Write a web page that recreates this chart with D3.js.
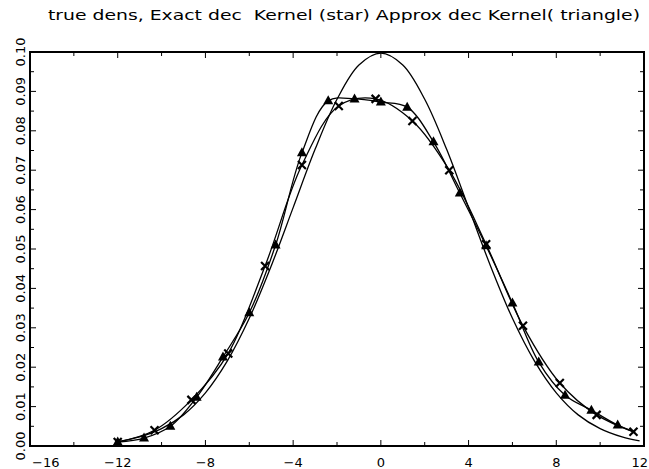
<!DOCTYPE html>
<html>
<head>
<meta charset="utf-8">
<script src="https://cdn.jsdelivr.net/npm/d3@7"></script>
<style>
  body { margin: 0; background: #fff; }
  text { font-family: "DejaVu Sans", sans-serif; fill: #000; }
</style>
</head>
<body>
<svg id="chart" width="649" height="469"></svg>
<script>
// Data
const title = "true dens, Exact dec  Kernel (star) Approx dec Kernel( triangle)"

const xTicks = [-16, -12, -8, -4, 0, 4, 8, 12]
const xMinor = [-14, -10, -6, -2, 2, 6, 10]
const yTicks = [0, 0.01, 0.02, 0.03, 0.04, 0.05, 0.06, 0.07, 0.08, 0.09, 0.10]
const yMinor = [0.005, 0.015, 0.025, 0.035, 0.045, 0.055, 0.065, 0.075, 0.085, 0.095]

// true density (plain line)
const trueX = [-12, -11, -10, -9, -8, -7, -6, -5, -4, -3, -2, -1, 0, 1, 2, 3, 4, 5, 6, 7, 8, 9, 10, 11, 11.8]
const trueY = [0.0011, 0.0023, 0.0044, 0.0079, 0.0135, 0.0216, 0.0324, 0.0457, 0.0605, 0.0753, 0.0880, 0.0967, 0.0997,
               0.0967, 0.0880, 0.0753, 0.0605, 0.0457, 0.0324, 0.0216, 0.0135, 0.0079, 0.0044, 0.0023, 0.0013]

// exact deconvolution kernel (star markers)
const starX = [-12, -10.32, -8.64, -6.96, -5.28, -3.6, -1.92, -0.24, 1.44, 3.12, 4.8, 6.48, 8.16, 9.84, 11.52]
const starY = [0.0010, 0.0040, 0.0117, 0.0235, 0.0457, 0.0713, 0.0863, 0.0881, 0.0825, 0.0700, 0.0512, 0.0305, 0.0160, 0.0079, 0.0036]

// approximate deconvolution kernel (triangle markers)
const triX = [-12, -10.8, -9.6, -8.4, -7.2, -6.0, -4.8, -3.6, -2.4, -1.2, 0, 1.2, 2.4, 3.6, 4.8, 6.0, 7.2, 8.4, 9.6, 10.8]
const triY = [0.0010, 0.0020, 0.0050, 0.0124, 0.0226, 0.0338, 0.0510, 0.0744, 0.0876, 0.0881, 0.0873, 0.0860, 0.0772,
              0.0642, 0.0508, 0.0363, 0.0213, 0.0129, 0.0091, 0.0053]
const triTail = [[11.6, 0.0035]]

const svg = d3.select("#chart")
const frame = {left: 30, right: 644, top: 52, bottom: 446}

const x = d3.scaleLinear().domain([-16, 12]).range([frame.left, frame.right])
const y = d3.scaleLinear().domain([0, 0.1]).range([frame.bottom, frame.top])

// title
svg.append("text")
    .attr("x", 48).attr("y", 20)
    .attr("textLength", 592)
    .attr("lengthAdjust", "spacingAndGlyphs")
    .style("white-space", "pre")
    .style("font-size", "14px")
    .text(title)

// ticks, all pointing inwards
function ticksX(g, vals, len) {
    g.selectAll("line.b").data(vals).join("line").attr("class", "b")
        .attr("x1", d => x(d)).attr("x2", d => x(d))
        .attr("y1", frame.bottom).attr("y2", frame.bottom - len)
    g.selectAll("line.t").data(vals).join("line").attr("class", "t")
        .attr("x1", d => x(d)).attr("x2", d => x(d))
        .attr("y1", frame.top).attr("y2", frame.top + len)
}
function ticksY(g, vals, len) {
    g.selectAll("line.l").data(vals).join("line").attr("class", "l")
        .attr("y1", d => y(d)).attr("y2", d => y(d))
        .attr("x1", frame.left).attr("x2", frame.left + len)
    g.selectAll("line.r").data(vals).join("line").attr("class", "r")
        .attr("y1", d => y(d)).attr("y2", d => y(d))
        .attr("x1", frame.right).attr("x2", frame.right - len)
}
const tg = svg.append("g").attr("stroke", "#000").attr("stroke-width", 1)
ticksX(tg.append("g"), xTicks, 6)
ticksX(tg.append("g"), xMinor, 4)
ticksY(tg.append("g"), yTicks, 6)
ticksY(tg.append("g"), yMinor, 4)

// x labels
const fmtX = d3.format("d")
svg.append("g").selectAll("text").data(xTicks).join("text")
    .attr("x", (d, i) => i == 0 ? frame.left + 2 : (i == xTicks.length - 1 ? 648 : x(d)))
    .attr("y", 467)
    .attr("text-anchor", (d, i) => i == 0 ? "start" : (i == xTicks.length - 1 ? "end" : "middle"))
    .style("font-size", "13px")
    .text(d => fmtX(d))

// y labels, rotated
const fmtY = d3.format(".2f")
svg.append("g").selectAll("text").data(yTicks).join("text")
    .attr("transform", d => "translate(25," + y(d) + ") rotate(-90)")
    .attr("text-anchor", "middle")
    .style("font-size", "13px")
    .text(d => fmtY(d))

// curves
const line = d3.line().x(d => x(d[0])).y(d => y(d[1])).curve(d3.curveCatmullRom)
const zip = (a, b) => a.map((v, i) => [v, b[i]])

const trueData = zip(trueX, trueY)
const starData = zip(starX, starY)
const triData = zip(triX, triY)

const curves = svg.append("g").attr("fill", "none").attr("stroke", "#000").attr("stroke-width", 1.3)
curves.append("path").attr("d", line(trueData))
curves.append("path").attr("d", line(starData))
curves.append("path").attr("d", line(triData.concat(triTail)))

// markers
svg.append("g").selectAll("path").data(starData).join("path")
    .attr("transform", d => "translate(" + x(d[0]) + "," + y(d[1]) + ")")
    .attr("d", "M-4,-4L4,4M-4,4L4,-4")
    .attr("stroke", "#000").attr("stroke-width", 2.2)

svg.append("g").selectAll("path").data(triData).join("path")
    .attr("transform", d => "translate(" + x(d[0]) + "," + y(d[1]) + ")")
    .attr("d", "M0,-5.5L5,3.5L-5,3.5Z")
    .attr("fill", "#000")

// frame
svg.append("rect")
    .attr("x", frame.left).attr("y", frame.top)
    .attr("width", frame.right - frame.left).attr("height", frame.bottom - frame.top)
    .attr("fill", "none").attr("stroke", "#000").attr("stroke-width", 2)
</script>
</body>
</html>
